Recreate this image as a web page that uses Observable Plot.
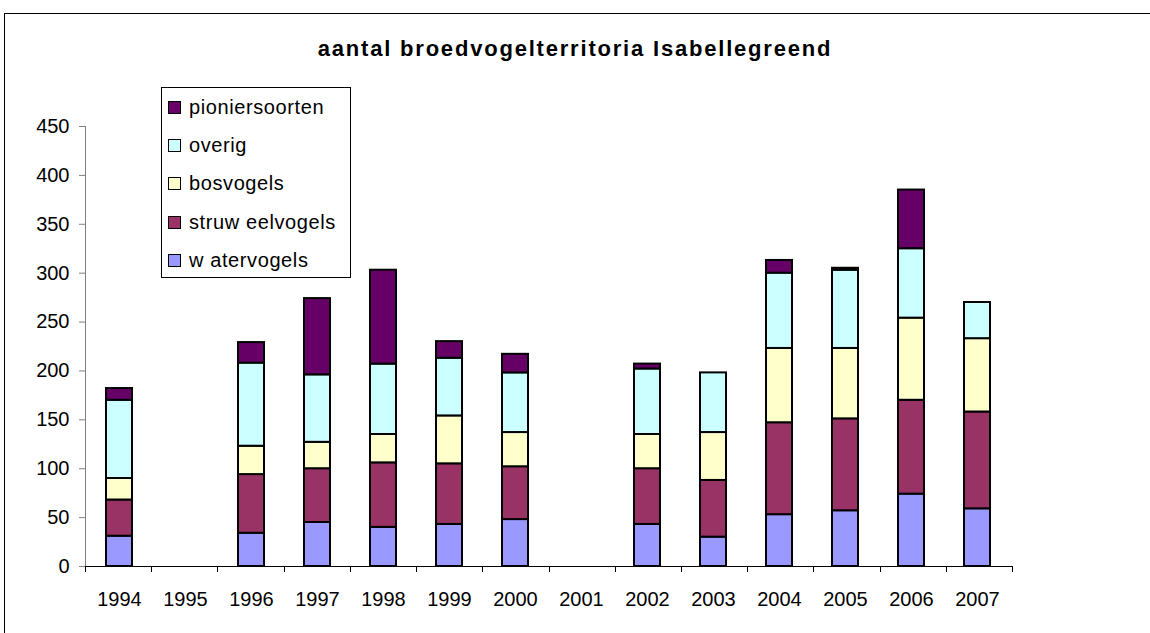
<!DOCTYPE html>
<html><head><meta charset="utf-8">
<script src="https://cdn.jsdelivr.net/npm/d3@7"></script>
<script src="https://cdn.jsdelivr.net/npm/@observablehq/plot@0.6"></script>
<style>
html,body{margin:0;padding:0;background:#fff;overflow:hidden}
body{width:1150px;height:633px;position:relative;font-family:"Liberation Sans",Arial,sans-serif}
#frame{position:absolute;left:4px;top:13px;width:1200px;height:700px;border:1px solid #000;box-sizing:border-box}
#title{position:absolute;left:0;width:1150px;top:38px;text-align:center;font-weight:bold;font-size:22px;line-height:22px;letter-spacing:1.8px;color:#000}
#chart{position:absolute;left:0;top:0}
#legend{position:absolute;left:161px;top:87px;width:190px;height:191px;border:1px solid #000;box-sizing:border-box;background:#fff}
.row{height:38.3px;display:flex;align-items:center;font-size:20px;letter-spacing:0.6px;color:#000}
.sw{width:13px;height:13px;border:1.5px solid #000;box-sizing:border-box;margin-left:6px;margin-right:8px;flex:none}
</style></head>
<body>
<div id="frame"></div>
<div id="title">aantal broedvogelterritoria Isabellegreend</div>
<div id="chart"></div>
<div id="legend"></div>
<script>
const years = ["1994","1995","1996","1997","1998","1999","2000","2001","2002","2003","2004","2005","2006","2007"];
const dataYears = ["1994","1996","1997","1998","1999","2000","2002","2003","2004","2005","2006","2007"];
const series = ["watervogels","struweelvogels","bosvogels","overig","pioniersoorten"];
const legendLabels = ["w atervogels","struw eelvogels","bosvogels","overig","pioniersoorten"];
const colors = ["#9999FF","#993366","#FFFFCC","#CCFFFF","#660066"];
const watervogels    = [31,34,45,40,43,48,43,30,53,57,74,59];
const struweelvogels = [37,60,55,66,62,54,57,58,94,94,96,99];
const bosvogels      = [22,29,27,29,49,35,35,49,76,72,84,75];
const overig         = [80,85,69,72,59,61,67,61,77,80,71,37];
const pioniersoorten = [12,21,78,96,17,19,5,0,13,2,60,0];
const yTicks = [0,50,100,150,200,250,300,350,400,450];

const values = [watervogels, struweelvogels, bosvogels, overig, pioniersoorten];
const data = [];
dataYears.forEach((yr, i) => {
  series.forEach((s, j) => {
    if (values[j][i] > 0) data.push({year: yr, series: s, value: values[j][i]});
  });
});

function axisLines(index, scales, vals, dims) {
  const left = dims.marginLeft, right = dims.width - dims.marginRight;
  const top = dims.marginTop, bottom = dims.height - dims.marginBottom;
  const step = (right - left) / years.length;
  const g = d3.create("svg:g");
  g.append("line").attr("x1", left + 0.5).attr("x2", left + 0.5).attr("y1", top).attr("y2", bottom)
    .attr("stroke", "#808080").attr("stroke-width", 1);
  g.append("line").attr("x1", left).attr("x2", right + 0.5).attr("y1", bottom + 0.5).attr("y2", bottom + 0.5)
    .attr("stroke", "#000").attr("stroke-width", 1);
  for (let k = 0; k <= years.length; k++) {
    const x = Math.round(left + k * step) + 0.5;
    g.append("line").attr("x1", x).attr("x2", x).attr("y1", bottom).attr("y2", bottom + 6)
      .attr("stroke", "#000").attr("stroke-width", 1);
  }
  return g.node();
}

const chart = Plot.plot({
  width: 1150,
  height: 633,
  marginLeft: 85,
  marginRight: 138,
  marginTop: 126,
  marginBottom: 67,
  style: {fontFamily: "'Liberation Sans', Arial, sans-serif", fontSize: "20px", background: "transparent", color: "#000"},
  x: {domain: years, paddingInner: 0.6, paddingOuter: 0.3, label: null},
  y: {domain: [0, 450], label: null},
  color: {domain: series, range: colors},
  marks: [
    Plot.barY(data, {x: "year", y: "value", fill: "series", stroke: "#000", strokeWidth: 2}),
    Plot.axisY({ticks: yTicks, tickSize: 6, tickPadding: 10, fontSize: 20, stroke: "#808080", fill: "#000", label: null}),
    Plot.axisX({tickSize: 0, tickPadding: 25, fontSize: 20, fill: "#000", label: null}),
    axisLines
  ]
});
document.getElementById("chart").appendChild(chart);

const legend = document.getElementById("legend");
for (let j = series.length - 1; j >= 0; j--) {
  const row = document.createElement("div");
  row.className = "row";
  const sw = document.createElement("div");
  sw.className = "sw";
  sw.style.background = colors[j];
  const t = document.createElement("span");
  t.textContent = legendLabels[j];
  row.appendChild(sw);
  row.appendChild(t);
  legend.appendChild(row);
}
</script>
</body></html>
